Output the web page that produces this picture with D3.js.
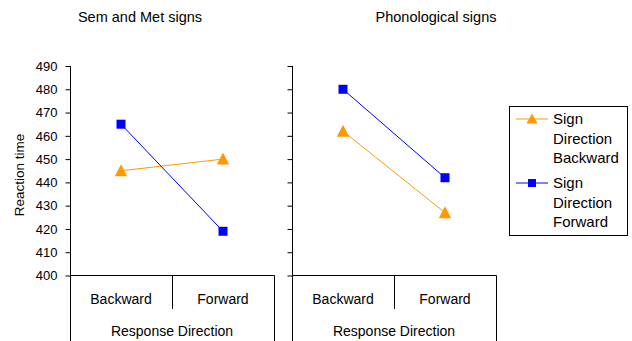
<!DOCTYPE html>
<html><head><meta charset="utf-8">
<script src="https://cdn.jsdelivr.net/npm/d3@7"></script>
<style>body{margin:0;background:#fff}text{font-family:"Liberation Sans",Arial,sans-serif;fill:#000}</style>
</head><body><svg id="c" width="632" height="341"></svg>
<script>
const categories = ["Backward", "Forward"];
const panels = ["Sem and Met signs", "Phonological signs"];
const seriesNames = ["Sign Direction Backward", "Sign Direction Forward"];
const backwardSem = [445, 450];
const forwardSem = [465, 419];
const backwardPhon = [462, 427];
const forwardPhon = [480, 442];
const yTicks = [400, 410, 420, 430, 440, 450, 460, 470, 480, 490];
const colors = ["#FF9900", "#0000FF"];

const svg = d3.select("#c");
const y = d3.scaleLinear().domain([400, 490]).range([275.5, 66]);
const panelData = [
  {title: panels[0], x0: 70, series: [backwardSem, forwardSem], labels: true, tx: 140},
  {title: panels[1], x0: 292, series: [backwardPhon, forwardPhon], labels: false, tx: 436}
];
const pw = 204;
const tri = "M0,-6.5L6.2,5.5L-6.2,5.5Z";

panelData.forEach(p => {
  const g = svg.append("g");
  const x = d3.scaleBand().domain(categories).range([p.x0, p.x0 + pw]);
  const ax = d3.axisLeft(y).tickValues(yTicks).tickSize(5).tickPadding(8)
    .tickFormat(p.labels ? d3.format("d") : () => "");
  const ag = g.append("g").attr("transform", "translate(" + (p.x0 + 0.5) + ",0)").call(ax);
  ag.select(".domain").attr("stroke", "#000").attr("d", "M0," + y(490) + "V" + y(400));
  ag.selectAll("line").attr("stroke", "#000");
  ag.selectAll("text").style("font-size", "13px").attr("font-family", null);
  // baseline
  g.append("line").attr("x1", p.x0).attr("x2", p.x0 + pw + 0.5).attr("y1", y(400)).attr("y2", y(400)).attr("stroke", "#000");
  // category box
  [p.x0, p.x0 + pw].forEach(xx => g.append("line").attr("x1", xx + 0.5).attr("x2", xx + 0.5).attr("y1", y(400)).attr("y2", 341).attr("stroke", "#000"));
  g.append("line").attr("x1", x("Forward") + 0.5).attr("x2", x("Forward") + 0.5).attr("y1", y(400)).attr("y2", 309).attr("stroke", "#000");
  categories.forEach(c => g.append("text").attr("x", x(c) + x.bandwidth() / 2).attr("y", 304)
    .attr("text-anchor", "middle").style("font-size", "14px").text(c));
  g.append("text").attr("x", p.x0 + pw / 2).attr("y", 336).attr("text-anchor", "middle").style("font-size", "14px").text("Response Direction");
  g.append("text").attr("x", p.tx).attr("y", 22).attr("text-anchor", "middle").style("font-size", "14.5px").text(p.title);
  const line = d3.line().x((d, i) => x(categories[i]) + x.bandwidth() / 2).y(d => y(d));
  p.series.forEach((s, si) => {
    g.append("path").attr("d", line(s)).attr("fill", "none").attr("stroke", colors[si]).attr("stroke-width", 1);
    s.forEach((v, i) => {
      const cx = x(categories[i]) + x.bandwidth() / 2, cy = y(v);
      if (si === 0) g.append("path").attr("d", tri).attr("transform", "translate(" + cx + "," + cy + ")").attr("fill", colors[0]);
      else g.append("rect").attr("x", cx - 4.5).attr("y", cy - 4.5).attr("width", 9).attr("height", 9).attr("fill", colors[1]);
    });
  });
});

// y-axis title
svg.append("text").attr("transform", "translate(24,175) rotate(-90)").attr("text-anchor", "middle").style("font-size", "13.5px").text("Reaction time");

// legend
const lg = svg.append("g");
lg.append("rect").attr("x", 509.5).attr("y", 106.5).attr("width", 118).attr("height", 129).attr("fill", "#fff").attr("stroke", "#000");
seriesNames.forEach((name, i) => {
  const ly = 119 + i * 64;
  lg.append("line").attr("x1", 516).attr("x2", 548).attr("y1", ly).attr("y2", ly).attr("stroke", colors[i]);
  if (i === 0) lg.append("path").attr("d", "M0,-5.5L5.5,4.5L-5.5,4.5Z").attr("transform", "translate(532," + ly + ")").attr("fill", colors[0]);
  else lg.append("rect").attr("x", 528).attr("y", ly - 4).attr("width", 8).attr("height", 8).attr("fill", colors[1]);
  const words = name.split(" ");
  words.forEach((w, j) => lg.append("text").attr("x", 553).attr("y", ly + 5 + j * 19.5).style("font-size", "15px").text(w));
});
</script></body></html>
